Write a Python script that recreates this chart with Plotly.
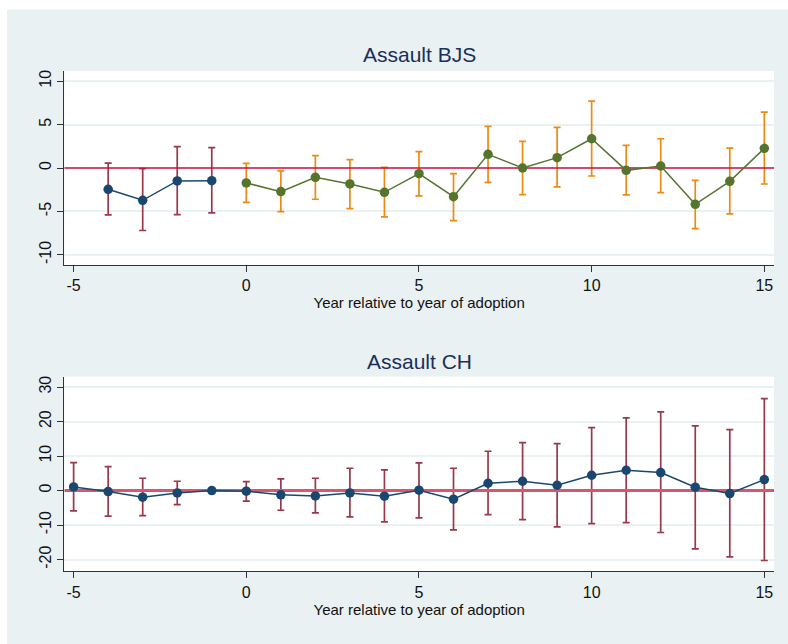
import plotly.graph_objects as go

# ---------------- data ----------------
# Assault BJS (top panel)
bjs_pre_x = [-4, -3, -2, -1]
bjs_pre_y = [-2.45, -3.72, -1.49, -1.46]
bjs_pre_lo = [-5.40, -7.20, -5.36, -5.17]
bjs_pre_hi = [0.57, -0.08, 2.45, 2.34]

bjs_post_x = [0, 1, 2, 3, 4, 5, 6, 7, 8, 9, 10, 11, 12, 13, 14, 15]
bjs_post_y = [-1.72, -2.72, -1.07, -1.84, -2.80, -0.65, -3.30, 1.57, 0.00, 1.19,
              3.37, -0.27, 0.23, -4.18, -1.53, 2.26]
bjs_post_lo = [-3.95, -5.02, -3.60, -4.67, -5.63, -3.22, -6.05, -1.65, -3.07, -2.18,
               -0.92, -3.10, -2.84, -6.97, -5.29, -1.84]
bjs_post_hi = [0.54, -0.34, 1.42, 0.96, 0.08, 1.88, -0.65, 4.79, 3.07, 4.67,
               7.70, 2.60, 3.37, -1.42, 2.30, 6.44]

# Assault CH (bottom panel)
ch_x = [-5, -4, -3, -2, -1, 0, 1, 2, 3, 4, 5, 6, 7, 8, 9, 10, 11, 12, 13, 14, 15]
ch_y = [1.06, -0.30, -1.93, -0.68, 0.00, -0.19, -1.25, -1.54, -0.68, -1.64, 0.10,
        -2.50, 2.12, 2.70, 1.54, 4.44, 5.89, 5.21, 0.97, -0.87, 3.19]
ch_lo = [-5.90, -7.43, -7.24, -4.05, 0.00, -3.09, -5.70, -6.47, -7.63, -9.07, -7.90,
         -11.40, -6.95, -8.40, -10.50, -9.56, -9.27, -12.16, -16.90, -19.20, -20.27]
ch_hi = [8.10, 6.95, 3.57, 2.70, 0.00, 2.60, 3.38, 3.57, 6.47, 5.98, 8.00,
         6.47, 11.39, 13.90, 13.60, 18.24, 21.04, 22.78, 18.73, 17.66, 26.64]

x_ticks = [-5, 0, 5, 10, 15]
x_tick_labels = ["-5", "0", "5", "10", "15"]
bjs_y_ticks = [-10, -5, 0, 5, 10]
bjs_y_tick_labels = ["-10", "-5", "0", "5", "10"]
ch_y_ticks = [-20, -10, 0, 10, 20, 30]
ch_y_tick_labels = ["-20", "-10", "0", "10", "20", "30"]

titles = ["Assault BJS", "Assault CH"]
x_title = "Year relative to year of adoption"

# ---------------- styles ----------------
NAVY = "#1a476f"
MAROON = "#98384a"
GREEN = "#55752f"
ORANGE = "#ec8a12"
BG = "#eaf1f3"
GRID = "#eaf1f3"
FONT = "Liberation Sans, Arial, sans-serif"

W, H = 788, 644


def px_to_dom_y(top_px, bottom_px):
    return [1 - bottom_px / H, 1 - top_px / H]


xdom = [64.3 / W, 774 / W]
top_dom = px_to_dom_y(71, 265)
bot_dom = px_to_dom_y(376.7, 571.3)
xrange = [-5.27, 15.28]

fig = go.Figure()


def ci_trace(x, y, lo, hi, color, xa, ya):
    return go.Scatter(
        x=x, y=y, mode="markers", xaxis=xa, yaxis=ya,
        marker=dict(size=1, color="rgba(0,0,0,0)"),
        error_y=dict(type="data", symmetric=False,
                     array=[h - v for h, v in zip(hi, y)],
                     arrayminus=[v - l for v, l in zip(y, lo)],
                     color=color, thickness=1.7, width=3.5),
        hoverinfo="skip", showlegend=False)


def line_trace(x, y, color, xa, ya):
    return go.Scatter(
        x=x, y=y, mode="lines+markers", xaxis=xa, yaxis=ya,
        line=dict(color=color, width=1.5),
        marker=dict(size=9.5, color=color),
        showlegend=False)


def zero_trace(color, width, xa, ya):
    return go.Scatter(x=xrange, y=[0, 0], mode="lines", xaxis=xa, yaxis=ya,
                      line=dict(color=color, width=width),
                      hoverinfo="skip", showlegend=False)


# top panel
fig.add_trace(ci_trace(bjs_pre_x, bjs_pre_y, bjs_pre_lo, bjs_pre_hi, MAROON, "x", "y"))
fig.add_trace(ci_trace(bjs_post_x, bjs_post_y, bjs_post_lo, bjs_post_hi, ORANGE, "x", "y"))
fig.add_trace(zero_trace("#cc1040", 1.5, "x", "y"))
fig.add_trace(line_trace(bjs_pre_x, bjs_pre_y, NAVY, "x", "y"))
fig.add_trace(line_trace(bjs_post_x, bjs_post_y, GREEN, "x", "y"))

# bottom panel
fig.add_trace(ci_trace(ch_x, ch_y, ch_lo, ch_hi, MAROON, "x2", "y2"))
fig.add_trace(zero_trace("#d9566f", 3, "x2", "y2"))
fig.add_trace(line_trace(ch_x, ch_y, NAVY, "x2", "y2"))

# white outer strips (left and top)
fig.add_shape(type="rect", xref="paper", yref="paper", x0=0, x1=7 / W, y0=0, y1=1,
              fillcolor="white", line=dict(width=0), layer="below")
fig.add_shape(type="rect", xref="paper", yref="paper", x0=0, x1=1, y0=1 - 9.5 / H, y1=1,
              fillcolor="white", line=dict(width=0), layer="below")

axis_common = dict(showline=True, linecolor="#333333", linewidth=1, ticks="outside",
                   tickcolor="#333333", ticklen=6, tickwidth=1, zeroline=False,
                   tickfont=dict(family=FONT, size=16, color="#111111"))

fig.update_layout(
    width=W, height=H,
    margin=dict(l=0, r=0, t=0, b=0),
    paper_bgcolor=BG, plot_bgcolor="white",
    font=dict(family=FONT),
    xaxis=dict(domain=xdom, anchor="y", range=xrange, tickvals=x_ticks,
               ticktext=x_tick_labels, showgrid=False, **axis_common,
               title=dict(text=x_title, font=dict(family=FONT, size=15, color="#111111"),
                          standoff=1)),
    yaxis=dict(domain=top_dom, anchor="x", range=[-11.17, 11.17], tickvals=bjs_y_ticks,
               ticktext=bjs_y_tick_labels, tickangle=-90, showgrid=True,
               gridcolor=GRID, gridwidth=1.5, **axis_common),
    xaxis2=dict(domain=xdom, anchor="y2", range=xrange, tickvals=x_ticks,
                ticktext=x_tick_labels, showgrid=False, **axis_common,
                title=dict(text=x_title, font=dict(family=FONT, size=15, color="#111111"),
                           standoff=1)),
    yaxis2=dict(domain=bot_dom, anchor="x2", range=[-23.4, 33.0], tickvals=ch_y_ticks,
                ticktext=ch_y_tick_labels, tickangle=-90, showgrid=True,
                gridcolor=GRID, gridwidth=1.5, **axis_common),
)

# panel titles
for t, ypx in zip(titles, [55, 361]):
    fig.add_annotation(text=t, xref="paper", yref="paper",
                       x=(xdom[0] + xdom[1]) / 2, y=1 - ypx / H,
                       xanchor="center", yanchor="middle", showarrow=False,
                       font=dict(family=FONT, size=21, color="#1a2f5a"))

fig.write_html("out.html")
